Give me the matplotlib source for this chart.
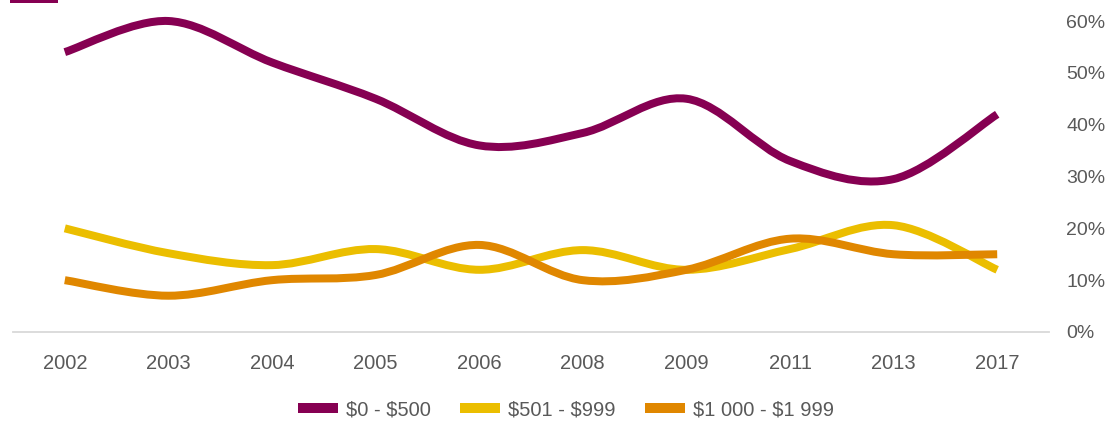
import matplotlib
matplotlib.use("Agg")
import matplotlib.pyplot as plt
from matplotlib.path import Path
from matplotlib.patches import PathPatch, Rectangle
from matplotlib.lines import Line2D
from matplotlib.ticker import PercentFormatter
import numpy as np

years = ["2002", "2003", "2004", "2005", "2006", "2008", "2009", "2011", "2013", "2017"]
series_names = ["$0 - $500", "$501 - $999", "$1 000 - $1 999"]
low = [0.54, 0.60, 0.52, 0.45, 0.36, 0.384, 0.45, 0.33, 0.295, 0.42]
mid = [0.20, 0.152, 0.129, 0.16, 0.12, 0.158, 0.12, 0.16, 0.206, 0.12]
high = [0.10, 0.07, 0.10, 0.11, 0.168, 0.10, 0.12, 0.18, 0.15, 0.15]
colors = ["#860052", "#EBBE00", "#E08700"]
yticks = [0, 0.1, 0.2, 0.3, 0.4, 0.5, 0.6]

W, H = 1107, 421
fig = plt.figure(figsize=(W / 100, H / 100), dpi=100)
ax = fig.add_axes([13 / W, 1 - 332 / H, (1049 - 13) / W, (332 - 21) / H])

font = ["Liberation Sans Narrow", "Liberation Sans", "DejaVu Sans"]
gray = "#595959"
lw = 8 * 72 / 100


def smooth_path(x, y):
    pts = np.column_stack([x, y]).astype(float)
    n = len(pts)
    verts = [pts[0]]
    codes = [Path.MOVETO]
    for i in range(n - 1):
        p0 = pts[i - 1] if i > 0 else pts[i]
        p1 = pts[i]
        p2 = pts[i + 1]
        p3 = pts[i + 2] if i + 2 < n else pts[i + 1]
        c1 = p1 + (p2 - p0) / 6.0
        c2 = p2 - (p3 - p1) / 6.0
        verts += [c1, c2, p2]
        codes += [Path.CURVE4] * 3
    return Path(verts, codes)


xs = np.arange(len(years))
for vals, col in zip([low, mid, high], colors):
    p = PathPatch(smooth_path(xs, vals), facecolor="none", edgecolor=col,
                  lw=lw, capstyle="butt", joinstyle="round", zorder=3, clip_on=False)
    ax.add_patch(p)

ax.set_xlim(-0.5, len(years) - 0.5)
ax.set_ylim(0, 0.6)
ax.set_xticks(xs)
ax.set_xticklabels(years)
ax.set_yticks(yticks)
ax.yaxis.set_major_formatter(PercentFormatter(1.0, decimals=0))
ax.yaxis.tick_right()
for s in ["top", "left", "right"]:
    ax.spines[s].set_visible(False)
ax.spines["bottom"].set_color("#D9D9D9")
ax.spines["bottom"].set_linewidth(1.3)
ax.tick_params(axis="x", length=0, pad=16, labelsize=14.5, labelcolor=gray)
ax.tick_params(axis="y", length=0, pad=12.5, labelsize=14, labelcolor=gray)
for lab in ax.get_xticklabels():
    lab.set_family(font)
for lab in ax.get_yticklabels():
    lab.set_family(font)
    lab.set_horizontalalignment("left")

handles = [Line2D([], [], color=c, lw=10 * 72 / 100, solid_capstyle="butt") for c in colors]
labels = [s.replace("$", r"\$") for s in series_names]
fig.legend(handles, labels, loc="center", bbox_to_anchor=(566 / W, 1 - 410 / H),
           ncol=3, frameon=False, handlelength=2.0, handletextpad=0.4,
           columnspacing=1.45, prop={"family": font, "size": 14.5}, labelcolor=gray)

fig.patches.append(Rectangle((10 / W, 1 - 3 / H), 48 / W, 3 / H, transform=fig.transFigure,
                             facecolor=colors[0], edgecolor="none"))

fig.savefig("out.png", dpi=100)
